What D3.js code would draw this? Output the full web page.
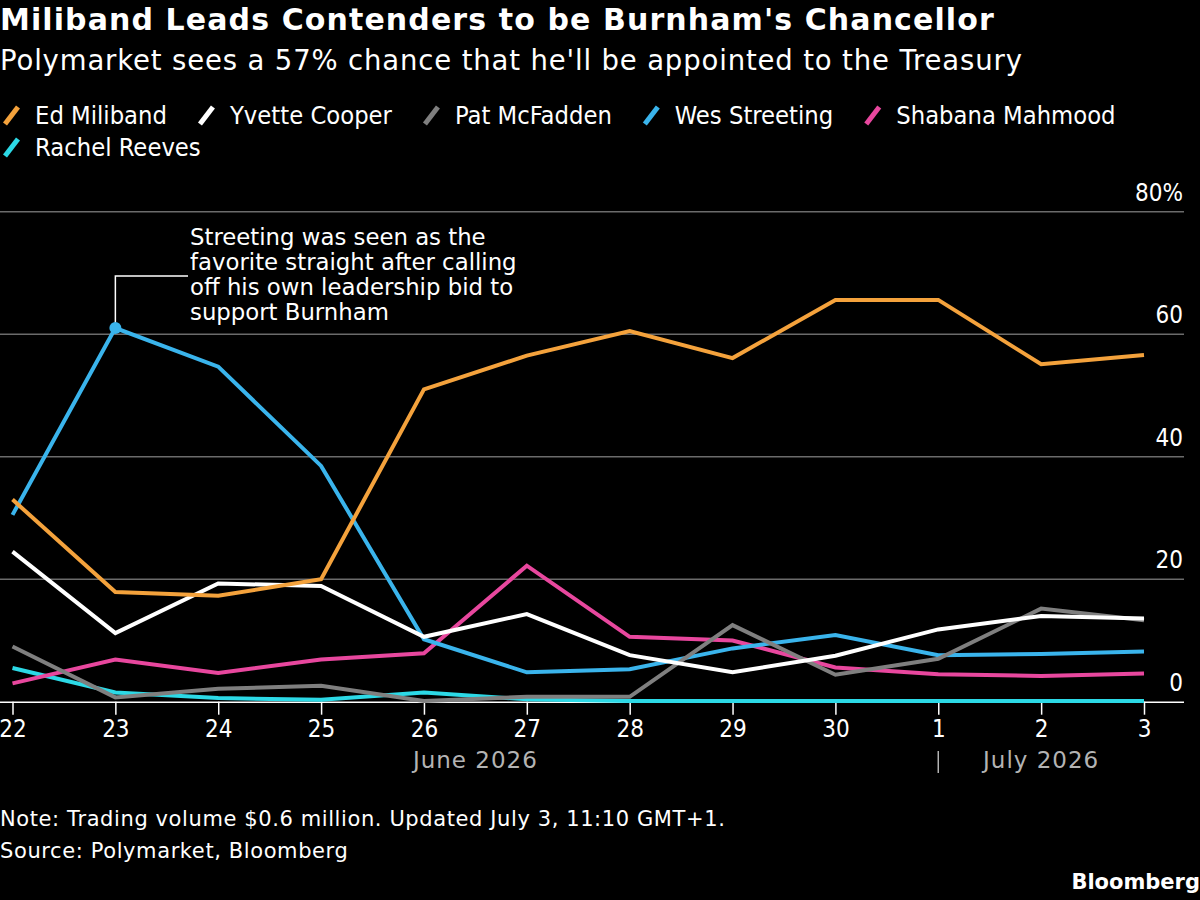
<!DOCTYPE html>
<html>
<head>
<meta charset="utf-8">
<script src="https://cdn.jsdelivr.net/npm/d3@7"></script>
<style>
    body { margin: 0; background: #000; }
    svg { display: block; }
    text { font-family: "DejaVu Sans", sans-serif; fill: #fff; }
    .narrow { font-family: "DejaVu Sans Condensed", "DejaVu Sans", sans-serif; font-stretch: condensed; }
</style>
</head>
<body>
<div id="chart"></div>
<script>
// Data (probability, %)
const dates = ["2026-06-22", "2026-06-23", "2026-06-24", "2026-06-25", "2026-06-26", "2026-06-27",
    "2026-06-28", "2026-06-29", "2026-06-30", "2026-07-01", "2026-07-02", "2026-07-03"];
const edMiliband = [33.0, 17.9, 17.3, 20.0, 51.0, 56.5, 60.5, 56.1, 65.6, 65.6, 55.1, 56.6];
const yvetteCooper = [24.5, 11.2, 19.3, 18.9, 10.6, 14.3, 7.6, 4.8, 7.5, 11.8, 14.0, 13.6];
const patMcFadden = [9.0, 0.7, 2.1, 2.6, 0.1, 0.8, 0.8, 12.5, 4.4, 7.0, 15.2, 13.3];
const wesStreeting = [30.5, 61.0, 54.7, 38.5, 10.2, 4.8, 5.3, 8.7, 10.9, 7.6, 7.8, 8.2];
const shabanaMahmood = [3.0, 6.9, 4.7, 6.9, 7.9, 22.2, 10.6, 10.0, 5.6, 4.5, 4.2, 4.6];
const rachelReeves = [5.5, 1.5, 0.6, 0.3, 1.5, 0.4, 0.1, 0.1, 0.1, 0.1, 0.1, 0.1];

const seriesNames = ["Ed Miliband", "Yvette Cooper", "Pat McFadden", "Wes Streeting", "Shabana Mahmood", "Rachel Reeves"];
const seriesValues = [edMiliband, yvetteCooper, patMcFadden, wesStreeting, shabanaMahmood, rachelReeves];
const seriesColors = ["#f4a23c", "#ffffff", "#7f7f7f", "#3ab4ec", "#e8479e", "#2cd9e6"];

const yTicks = [0, 20, 40, 60, 80];
const monthLabels = ["June 2026", "July 2026"];

const annotationText = ["Streeting was seen as the", "favorite straight after calling",
    "off his own leadership bid to", "support Burnham"];
const annotationDate = "2026-06-23";

class LineChart {
    constructor(_config) {
        this.config = {
            parentElement: _config.parentElement,
            containerWidth: _config.containerWidth,
            containerHeight: _config.containerHeight
        }
        this.parse = d3.timeParse("%Y-%m-%d");
        this.data = seriesNames.map((name, i) => ({
            name: name,
            color: seriesColors[i],
            values: dates.map((d, j) => ({ date: this.parse(d), value: seriesValues[i][j] }))
        }));
        this.initVis();
    }

    initVis() {
        let vis = this;

        vis.svg = d3.select(vis.config.parentElement).append("svg")
            .attr("width", vis.config.containerWidth)
            .attr("height", vis.config.containerHeight)
            .style("background", "#000");

        vis.xScale = d3.scaleTime()
            .domain(d3.extent(dates, d => vis.parse(d)))
            .range([12.5, 1144]);
        vis.yScale = d3.scaleLinear()
            .domain([0, 80])
            .range([701.7, 211.7]);

        // title + subtitle
        vis.svg.append("text")
            .attr("x", 0).attr("y", 30)
            .style("font-size", "30px")
            .style("font-weight", "bold")
            .style("letter-spacing", "1.1px")
            .text("Miliband Leads Contenders to be Burnham's Chancellor");
        vis.svg.append("text")
            .attr("x", 0).attr("y", 70)
            .style("font-size", "27.5px")
            .style("letter-spacing", "0.85px")
            .text("Polymarket sees a 57% chance that he'll be appointed to the Treasury");

        // legend, laid out by text width
        vis.legend = vis.svg.append("g").attr("class", "legend");
        let lx = 5, ly = 124;
        vis.data.forEach((s, i) => {
            if (i == 5) { lx = 5; ly = 156; }
            vis.legend.append("line")
                .attr("x1", lx).attr("y1", ly)
                .attr("x2", lx + 13).attr("y2", ly - 17)
                .attr("stroke", s.color)
                .attr("stroke-width", 5);
            let t = vis.legend.append("text")
                .attr("class", "narrow")
                .attr("x", lx + 30).attr("y", ly)
                .style("font-size", "25.3px")
                .text(s.name);
            lx = lx + 30 + t.node().getComputedTextLength() + 33;
        });

        vis.chart = vis.svg.append("g");
        vis.renderVis();
    }

    renderVis() {
        let vis = this;

        // gridlines and y labels on the right
        vis.chart.selectAll(".grid")
            .data(yTicks.filter(d => d > 0))
            .join("line")
            .attr("class", "grid")
            .attr("x1", 0).attr("x2", 1184)
            .attr("y1", d => vis.yScale(d)).attr("y2", d => vis.yScale(d))
            .attr("stroke", "#6b6b6b")
            .attr("stroke-width", 1.5);

        vis.chart.selectAll(".ylabel")
            .data(yTicks)
            .join("text")
            .attr("class", "ylabel narrow")
            .attr("x", 1183)
            .attr("y", d => vis.yScale(d) - 11)
            .attr("text-anchor", "end")
            .style("font-size", "24px")
            .text(d => d == 80 ? d + "%" : d);

        // x axis
        vis.xAxis = d3.axisBottom(vis.xScale)
            .tickValues(dates.map(d => vis.parse(d)))
            .tickFormat(d3.timeFormat("%-d"))
            .tickSize(13)
            .tickPadding(5);
        vis.xAxisG = vis.chart.append("g")
            .attr("transform", `translate(0,${vis.yScale(0)})`)
            .call(vis.xAxis);
        vis.xAxisG.select(".domain").remove();
        vis.xAxisG.selectAll(".tick line").attr("stroke", "#fff").attr("stroke-width", 1.5);
        vis.xAxisG.selectAll(".tick text")
            .attr("class", "narrow")
            .attr("fill", "#fff")
            .style("font-size", "24px");

        // month labels
        let jun = vis.xScale(vis.parse(dates[0]));
        let jul = vis.xScale(vis.parse("2026-07-01"));
        let end = vis.xScale(vis.parse(dates[dates.length - 1]));
        [[(jun + jul) / 2, monthLabels[0]], [(jul + end) / 2, monthLabels[1]]].forEach(m => {
            vis.chart.append("text")
                .attr("x", m[0]).attr("y", 768)
                .attr("text-anchor", "middle")
                .style("font-size", "23px")
                .style("letter-spacing", "1px")
                .style("fill", "#b3b3b3")
                .text(m[1]);
        });
        vis.chart.append("line")
            .attr("x1", jul).attr("x2", jul)
            .attr("y1", 751).attr("y2", 773)
            .attr("stroke", "#b3b3b3")
            .attr("stroke-width", 1.5);

        // lines, first series on top
        vis.line = d3.line()
            .x(d => vis.xScale(d.date))
            .y(d => vis.yScale(d.value));
        vis.chart.selectAll(".series")
            .data(vis.data.slice().reverse())
            .join("path")
            .attr("class", "series")
            .attr("fill", "none")
            .attr("stroke", d => d.color)
            .attr("stroke-width", 4)
            .attr("stroke-linejoin", "miter")
            .attr("d", d => vis.line(d.values));

        // baseline under the lines
        vis.chart.append("line")
            .attr("x1", 0).attr("x2", 1184)
            .attr("y1", vis.yScale(0) + 0.5).attr("y2", vis.yScale(0) + 0.5)
            .attr("stroke", "#fff")
            .attr("stroke-width", 1.5)
            .lower();

        // annotation on Streeting's peak
        let ws = vis.data[3].values.find(d => +d.date == +vis.parse(annotationDate));
        let ax = vis.xScale(ws.date), ay = vis.yScale(ws.value);
        vis.chart.append("path")
            .attr("d", `M${ax},${ay}V276H188`)
            .attr("fill", "none")
            .attr("stroke", "#fff")
            .attr("stroke-width", 1.5);
        vis.chart.append("circle")
            .attr("cx", ax).attr("cy", ay)
            .attr("r", 6)
            .attr("fill", vis.data[3].color);
        vis.chart.append("g").selectAll("text")
            .data(annotationText)
            .join("text")
            .attr("x", 190)
            .attr("y", (d, i) => 245 + i * 25)
            .style("font-size", "22.8px")
            .text(d => d);

        // footer
        vis.svg.append("text")
            .attr("x", 0).attr("y", 826)
            .style("font-size", "21px")
            .style("letter-spacing", "0.6px")
            .text("Note: Trading volume $0.6 million. Updated July 3, 11:10 GMT+1.");
        vis.svg.append("text")
            .attr("x", 0).attr("y", 858)
            .style("font-size", "21px")
            .style("letter-spacing", "0.6px")
            .text("Source: Polymarket, Bloomberg");
        vis.svg.append("text")
            .attr("x", 1200).attr("y", 889)
            .attr("text-anchor", "end")
            .style("font-size", "21px")
            .style("font-weight", "bold")
            .text("Bloomberg");
    }
}

let chart = new LineChart({ parentElement: "#chart", containerWidth: 1200, containerHeight: 900 });
</script>
</body>
</html>
